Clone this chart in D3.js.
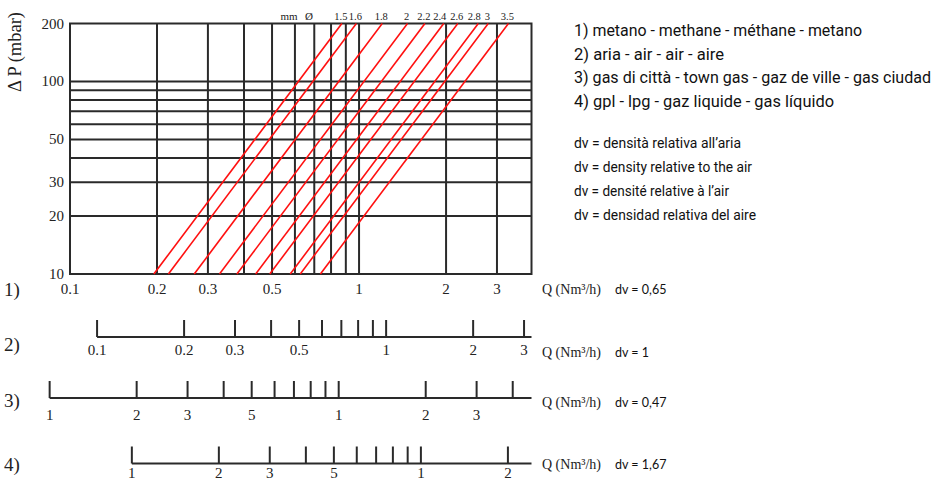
<!DOCTYPE html>
<html><head><meta charset="utf-8">
<script src="https://cdn.jsdelivr.net/npm/d3@7"></script>
<style>
html,body{margin:0;padding:0;background:#fff;}
svg{display:block;}
.serif{font-family:"Liberation Serif","Times New Roman",serif;fill:#222;}
.narrow{font-family:Roboto,"Liberation Sans Narrow",sans-serif;fill:#111;}
.dv{font-family:Lato,"Open Sans",sans-serif;fill:#111;}
</style></head>
<body>
<svg id="c" width="945" height="488"></svg>
<script>
// ---------- data ----------
const xDomain = [0.1, 3.95];            // Q (Nm3/h) methane
const yDomain = [10, 200];              // ΔP (mbar)
const yTickValues = [10, 20, 30, 50, 100, 200];
const yGridValues = [20, 30, 40, 50, 60, 70, 80, 90, 100];
const xGridValues = [0.2, 0.3, 0.4, 0.5, 0.6, 0.7, 0.8, 0.9, 1, 2, 3];
const xTickLabels = [0.1, 0.2, 0.3, 0.5, 1, 2, 3];
const diameters = ["1.5", "1.6", "1.8", "2", "2.2", "2.4", "2.6", "2.8", "3", "3.5"];
const qAt10mbar  = [0.195, 0.219, 0.269, 0.329, 0.378, 0.439, 0.491, 0.578, 0.626, 0.735];
const qAt200mbar = [0.872, 0.979, 1.203, 1.471, 1.690, 1.963, 2.196, 2.585, 2.799, 3.287];

const gasNames = ["1)", "2)", "3)", "4)"];
const gasDv = ["dv = 0,65", "dv = 1", "dv = 0,47", "dv = 1,67"];
// flow of each gas equivalent to 1 Nm3/h of methane
const gasFactor = [1, 0.806, 1.176, 0.611];
const scale2Ticks = [0.1, 0.2, 0.3, 0.4, 0.5, 0.6, 0.7, 0.8, 0.9, 1, 2, 3];
const scale2Labels = [[0.1,"0.1"],[0.2,"0.2"],[0.3,"0.3"],[0.5,"0.5"],[1,"1"],[2,"2"],[3,"3"]];
const scale3Ticks = [0.1, 0.2, 0.3, 0.4, 0.5, 0.6, 0.7, 0.8, 0.9, 1, 2, 3, 4];
const scale3Labels = [[0.1,"1"],[0.2,"2"],[0.3,"3"],[0.5,"5"],[1,"1"],[2,"2"],[3,"3"]];
const scale4Ticks = [0.1, 0.2, 0.3, 0.4, 0.5, 0.6, 0.7, 0.8, 0.9, 1, 2];
const scale4Labels = [[0.1,"1"],[0.2,"2"],[0.3,"3"],[0.5,"5"],[1,"1"],[2,"2"]];

const legendLines = [
  "1) metano - methane - méthane - metano",
  "2) aria - air - air - aire",
  "3) gas di città - town gas - gaz de ville - gas ciudad",
  "4) gpl - lpg - gaz liquide - gas líquido"
];
const dvLines = [
  "dv = densità relativa all’aria",
  "dv = density relative to the air",
  "dv = densité relative à l’air",
  "dv = densidad relativa del aire"
];
const legendWidths = [288, 150, 357, 260];
const dvWidths = [167, 178, 155, 182];

// ---------- drawing ----------
const svg = d3.select("#c");
const ink = "#2a2a2a";
const x = d3.scaleLog().domain(xDomain).range([70, 531.5]);
const y = d3.scaleLog().domain(yDomain).range([274, 23.5]);
const [x0, x1] = x.range(), [yb, yt] = y.range();

const g = svg.append("g");
// grid
g.selectAll(".hg").data(yGridValues).join("line")
  .attr("x1", x0).attr("x2", x1).attr("y1", d => y(d)).attr("y2", d => y(d))
  .attr("stroke", ink).attr("stroke-width", 2);
g.selectAll(".vg").data(xGridValues).join("line")
  .attr("y1", yt).attr("y2", yb).attr("x1", d => x(d)).attr("x2", d => x(d))
  .attr("stroke", ink).attr("stroke-width", 2);
// frame
g.append("rect").attr("x", x0).attr("y", yt).attr("width", x1 - x0).attr("height", yb - yt)
  .attr("fill", "none").attr("stroke", ink).attr("stroke-width", 2);

// red lines
const lineData = diameters.map((d, i) => ({d, pts: [[qAt10mbar[i], 10], [qAt200mbar[i], 200]]}));
const line = d3.line().x(p => x(p[0])).y(p => y(p[1]));
g.selectAll(".rl").data(lineData).join("path")
  .attr("d", d => line(d.pts)).attr("fill", "none").attr("stroke", "#ff1010").attr("stroke-width", 1.6);

// diameter labels
const lblOff = {"2.4": -3, "2.8": -3};
g.selectAll(".dl").data(lineData).join("text").attr("class", "serif")
  .attr("x", d => x(d.pts[1][0]) - 1 + (lblOff[d.d] || 0)).attr("y", 20)
  .attr("text-anchor", "middle").attr("font-size", 10.5).text(d => d.d);
g.append("text").attr("class", "serif").attr("x", 289).attr("y", 20).attr("text-anchor", "middle").attr("font-size", 11).text("mm");
g.append("text").attr("class", "serif").attr("x", 309).attr("y", 20).attr("text-anchor", "middle").attr("font-size", 11).text("Ø");

// y tick labels
g.selectAll(".yl").data(yTickValues).join("text").attr("class", "serif")
  .attr("x", 64).attr("y", d => y(d) + 5).attr("text-anchor", "end").attr("font-size", 15).text(d => d);
// y title
g.append("text").attr("class", "serif").attr("transform", "translate(21,52) rotate(-90)")
  .attr("text-anchor", "middle").attr("font-size", 18.5).text("Δ P (mbar)");

// scale 1 labels
g.selectAll(".xl").data(xTickLabels).join("text").attr("class", "serif")
  .attr("x", d => x(d)).attr("y", 294).attr("text-anchor", "middle").attr("font-size", 15).text(d => d);

// secondary scales
const scales = [
  {ticks: scale2Ticks, labels: scale2Labels, f: gasFactor[1], ly: 337, ty: 355},
  {ticks: scale3Ticks, labels: scale3Labels, f: gasFactor[2], ly: 398, ty: 420},
  {ticks: scale4Ticks, labels: scale4Labels, f: gasFactor[3], ly: 463.5, ty: 478}
];
scales.forEach(s => {
  const sx = q => x(q / s.f);
  g.append("line").attr("x1", sx(s.ticks[0])).attr("x2", x1).attr("y1", s.ly).attr("y2", s.ly)
    .attr("stroke", ink).attr("stroke-width", 2);
  g.selectAll(null).data(s.ticks).join("line")
    .attr("x1", d => sx(d)).attr("x2", d => sx(d)).attr("y1", s.ly - 17).attr("y2", s.ly)
    .attr("stroke", ink).attr("stroke-width", 2);
  g.selectAll(null).data(s.labels).join("text").attr("class", "serif")
    .attr("x", d => sx(d[0])).attr("y", s.ty).attr("text-anchor", "middle").attr("font-size", 15).text(d => d[1]);
});

// gas numbers + Q labels + dv
const rowY = [290, 345, 401, 465];
const qY = [294, 357, 407, 469];
gasNames.forEach((n, i) => {
  g.append("text").attr("class", "serif").attr("x", 4).attr("y", rowY[i] + 6).attr("font-size", 19).text(n);
  g.append("text").attr("class", "serif").attr("x", 542).attr("y", qY[i]).attr("font-size", 14).text("Q (Nm³/h)");
  g.append("text").attr("class", "dv").attr("x", 615).attr("y", qY[i]).attr("font-size", 12.5).text(gasDv[i]);
});

// legend
legendLines.forEach((t, i) => {
  g.append("text").attr("class", "narrow").attr("x", 574).attr("y", 36 + i * 23.5).attr("font-size", 16)
    .attr("textLength", legendWidths[i]).attr("lengthAdjust", "spacingAndGlyphs").text(t);
});
dvLines.forEach((t, i) => {
  g.append("text").attr("class", "narrow").attr("x", 574).attr("y", 148 + i * 24).attr("font-size", 15)
    .attr("textLength", dvWidths[i]).attr("lengthAdjust", "spacingAndGlyphs").text(t);
});
</script>
</body></html>
